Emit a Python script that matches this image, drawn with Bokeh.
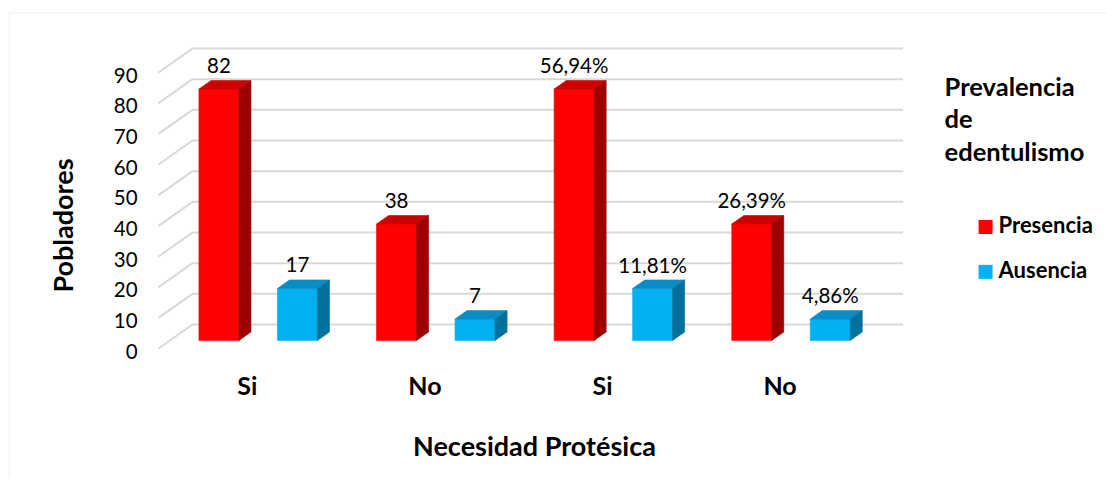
import math

from bokeh.plotting import figure
from bokeh.models import Range1d, BoxAnnotation, ColumnDataSource
from bokeh.core.properties import value
from bokeh.embed import file_html
from bokeh.resources import INLINE

# ---- data -------------------------------------------------------------
categories = ["Si", "No", "Si", "No"]
presencia = [82, 38, 82, 38]
ausencia = [17, 7, 17, 7]
# first two groups are labelled with counts, last two with share of the total
label_style = ["count", "count", "percent", "percent"]
y_ticks = [0, 10, 20, 30, 40, 50, 60, 70, 80, 90]
series_names = ["Presencia", "Ausencia"]
legend_title = ["Prevalencia", "de", "edentulismo"]
x_title = "Necesidad Protésica"
y_title = "Pobladores"

total = sum(presencia[:2]) + sum(ausencia[:2])

# ---- geometry of the 3-D box (data units) ------------------------------
W, H = 1106, 479
PX_PER_CAT = 177.6      # pixels per category
PX_PER_UNIT = 3.0667    # pixels per population unit
FLOOR_LEFT_PX = 158     # canvas x of the front-left floor corner
FLOOR_FRONT_PX = 348    # canvas y of the front floor edge

DX = 34 / PX_PER_CAT    # depth shift along x (categories)
DY = 24 / PX_PER_UNIT   # depth shift along y (units)
D_FRONT, D_BACK = 0.33, 0.685   # bar depth span as fraction of box depth
BAR_W = 0.225
OFFSETS = [0.277, 0.719]        # bar centres inside a category

FACE_COLORS = [
    {"front": "#FF0000", "top": "#CC0000", "side": "#9C0000"},
    {"front": "#00B0F0", "top": "#0A8CC4", "side": "#00709C"},
]
GRID = "#D9D9D9"
FONT = value("Lato")

x_range = Range1d(-FLOOR_LEFT_PX / PX_PER_CAT, (W - FLOOR_LEFT_PX) / PX_PER_CAT)
y_range = Range1d((FLOOR_FRONT_PX - H) / PX_PER_UNIT, FLOOR_FRONT_PX / PX_PER_UNIT)

p = figure(width=W, height=H, x_range=x_range, y_range=y_range,
           output_backend="svg", toolbar_location=None, tools="",
           min_border=0, min_border_left=0, min_border_right=0,
           min_border_top=0, min_border_bottom=0)
p.xaxis.visible = False
p.yaxis.visible = False
p.grid.visible = False
p.outline_line_color = None
p.background_fill_color = "white"
p.border_fill_color = "white"

# chart border (left and top edges visible)
p.add_layout(BoxAnnotation(left=-0.84, top=109.5, right=x_range.end + 1,
                           bottom=y_range.start - 5, fill_alpha=0,
                           line_color="#D9D9D9", line_width=1.5))

n_cat = len(categories)

# ---- walls: gridlines on side wall and back wall ------------------------
gx, gy = [], []
for t in y_ticks:
    gx.append([0, DX, n_cat + DX])
    gy.append([t, t + DY, t + DY])
p.multi_line(gx, gy, line_color=GRID, line_width=2)

# ---- bars ----------------------------------------------------------------
xs = {"front": [], "top": [], "side": []}
ys = {"front": [], "top": [], "side": []}
cols = {"front": [], "top": [], "side": []}
lab_x, lab_y, lab_t = [], [], []

for s, vals in enumerate([presencia, ausencia]):
    for i, v in enumerate(vals):
        cx = i + OFFSETS[s]
        xl, xr = cx - BAR_W / 2, cx + BAR_W / 2
        fx0, fy0 = D_FRONT * DX, D_FRONT * DY
        bx0, by0 = D_BACK * DX, D_BACK * DY
        xs["front"].append([xl + fx0, xr + fx0, xr + fx0, xl + fx0])
        ys["front"].append([fy0, fy0, v + fy0, v + fy0])
        xs["top"].append([xl + fx0, xr + fx0, xr + bx0, xl + bx0])
        ys["top"].append([v + fy0, v + fy0, v + by0, v + by0])
        xs["side"].append([xr + fx0, xr + bx0, xr + bx0, xr + fx0])
        ys["side"].append([fy0, by0, v + by0, v + fy0])
        for k in cols:
            cols[k].append(FACE_COLORS[s][k])
        lab_x.append(cx + fx0)
        lab_y.append(v + fy0 + 7.7)
        if label_style[i] == "count":
            lab_t.append(str(v))
        else:
            lab_t.append(f"{v / total * 100:.2f}".replace(".", ",") + "%")

for k in ["front", "top", "side"]:
    src = ColumnDataSource(dict(xs=xs[k], ys=ys[k], c=cols[k]))
    p.patches("xs", "ys", source=src, fill_color="c", line_color="c",
              line_width=0.6)

# value labels
p.text(lab_x, lab_y, text=lab_t, text_font=FONT, text_font_size=value("20.5px"),
       text_color="#000000", text_align="center", text_baseline="alphabetic")

# y tick labels
p.text([-0.118] * len(y_ticks), [t - 0.9 for t in y_ticks],
       text=[str(t) for t in y_ticks], text_font=FONT,
       text_font_size=value("20.5px"), text_color="#000000",
       text_align="right", text_baseline="alphabetic")

# category labels
p.text([i + 0.5 for i in range(n_cat)], [-12.0] * n_cat, text=categories,
       text_font=FONT, text_font_size=value("25px"), text_font_style="bold",
       text_color="#000000", text_align="center", text_baseline="alphabetic")

# axis titles
p.text([2.117], [-31.5], text=[x_title], text_font=FONT,
       text_font_size=value("27px"), text_font_style="bold",
       text_color="#000000", text_align="center", text_baseline="alphabetic")
p.text([-0.54], [40.1], text=[y_title], text_font=FONT,
       text_font_size=value("27px"), text_font_style="bold", angle=math.pi / 2,
       text_color="#000000", text_align="center", text_baseline="alphabetic")

# legend
p.text([4.426] * 3, [85.7, 75.1, 64.5], text=legend_title, text_font=FONT,
       text_font_size=value("25.5px"), text_font_style="bold",
       text_color="#000000", text_align="left", text_baseline="alphabetic")
p.scatter([4.657, 4.657], [39.6, 25.0], marker="square", size=14,
          fill_color=[c["front"] for c in FACE_COLORS], line_color=None)
p.text([4.730, 4.730], [40.4, 25.7], text=series_names, text_font=FONT,
       text_font_size=value("22px"), text_font_style="bold",
       text_color="#000000", text_align="left", text_baseline="alphabetic")

open("out.html", "w").write(file_html(p, INLINE))
